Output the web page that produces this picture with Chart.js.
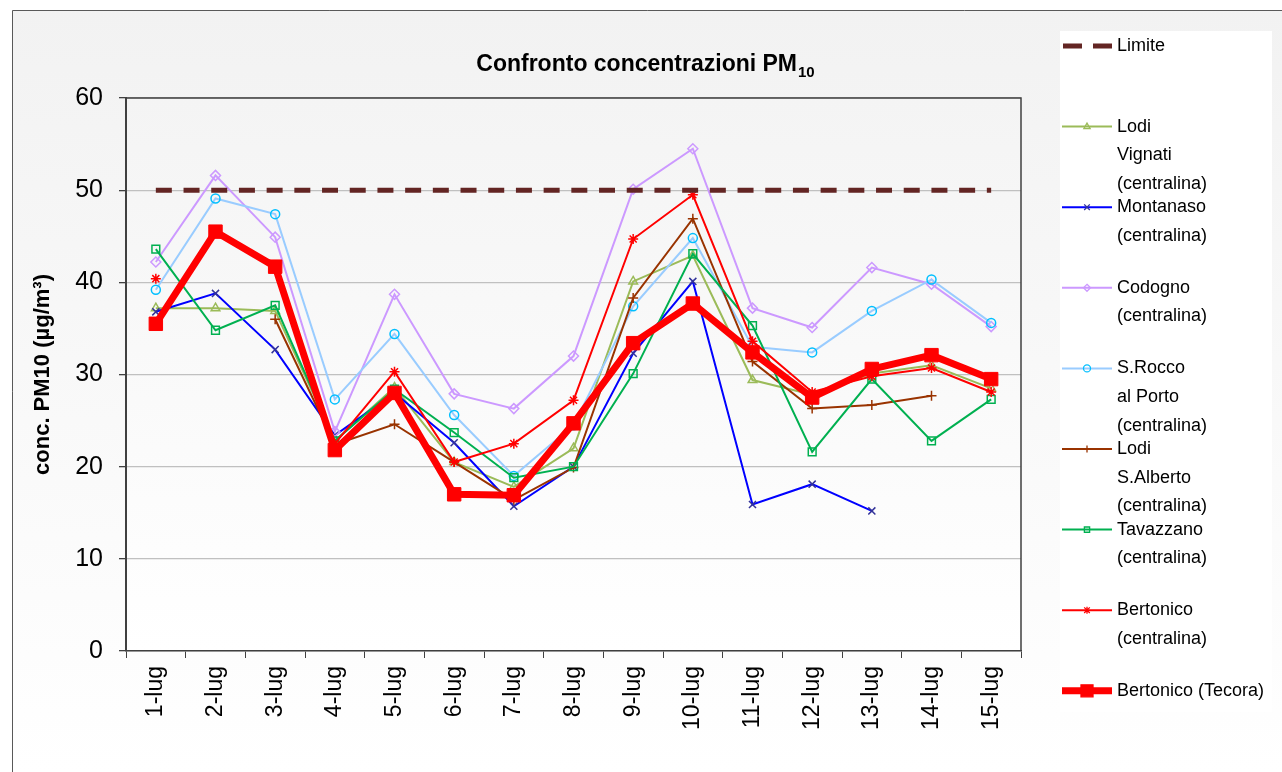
<!DOCTYPE html>
<html lang="it">
<head>
<meta charset="UTF-8">
<title>Confronto concentrazioni PM10</title>
<script src="https://cdn.jsdelivr.net/npm/chart.js@4.4.1/dist/chart.umd.min.js"></script>
<style>
  html, body { margin: 0; padding: 0; background: #fff; }
  canvas { display: block; }
</style>
</head>
<body>
<canvas id="grafico" width="1282" height="772"></canvas>
<script>
// giorni di luglio
const giorni = ['1-lug', '2-lug', '3-lug', '4-lug', '5-lug', '6-lug', '7-lug', '8-lug',
  '9-lug', '10-lug', '11-lug', '12-lug', '13-lug', '14-lug', '15-lug'];

// valori PM10 (µg/m³)
const limite        = [50, 50, 50, 50, 50, 50, 50, 50, 50, 50, 50, 50, 50, 50, 50];
const lodiVignati   = [37.2, 37.2, 36.9, 22.8, 28.6, 20.5, 17.8, 22.0, 40.1, 42.9, 29.4, 27.8, 30.1, 31.0, 28.5];
const montanaso     = [36.8, 38.8, 32.7, 23.4, 28.0, 22.6, 15.7, 20.0, 32.3, 40.1, 15.9, 18.1, 15.2, null, null];
const codogno       = [42.2, 51.6, 44.9, 23.8, 38.7, 27.9, 26.3, 32.0, 50.1, 54.5, 37.2, 35.1, 41.6, 39.8, 35.2];
const sRocco        = [39.2, 49.1, 47.4, 27.3, 34.4, 25.6, 19.0, 24.5, 37.4, 44.8, 33.0, 32.4, 36.9, 40.3, 35.6];
const lodiSAlberto  = [null, null, 36.0, 22.4, 24.6, 20.5, 16.4, 19.9, 38.3, 46.9, 31.4, 26.3, 26.7, 27.7, null];
const tavazzano     = [43.6, 34.8, 37.5, 22.8, 28.4, 23.7, 18.8, 20.0, 30.1, 43.1, 35.3, 21.6, 29.5, 22.8, 27.3];
const bertonico     = [40.4, null, null, 22.5, 30.3, 20.5, 22.5, 27.2, 44.7, 49.5, 33.6, 28.1, 29.8, 30.7, 28.1];
const bertonicoTec  = [35.5, 45.5, 41.7, 21.8, 28.0, 17.0, 16.9, 24.7, 33.4, 37.7, 32.4, 27.5, 30.6, 32.1, 29.5];

const yTicks = [0, 10, 20, 30, 40, 50, 60];

const FONT = '"Liberation Sans", Arial, sans-serif';

function serie(label, data, colore, marker, raggio, colMarker, ordine) {
  return {
    label: label,
    data: data,
    borderColor: colore,
    borderWidth: 2,
    pointStyle: marker,
    pointRadius: raggio,
    pointBorderColor: colMarker || colore,
    pointBackgroundColor: 'rgba(0,0,0,0)',
    pointBorderWidth: 1.5,
    spanGaps: false,
    tension: 0,
    order: ordine
  };
}

const datasets = [
  {
    label: 'Limite',
    data: limite,
    borderColor: '#632523',
    borderWidth: 5,
    borderDash: [16, 11.7],
    pointRadius: 0,
    order: 1
  },
  serie('Lodi\nVignati\n(centralina)', lodiVignati, '#9BBB59', 'triangle', 5, null, 8),
  serie('Montanaso\n(centralina)', montanaso, '#0000FF', 'crossRot', 5, '#333399', 7),
  serie('Codogno\n(centralina)', codogno, '#CC99FF', 'rectRot', 5, null, 6),
  serie('S.Rocco\nal Porto\n(centralina)', sRocco, '#99CCFF', 'circle', 4.5, '#00BFFF', 5),
  serie('Lodi\nS.Alberto\n(centralina)', lodiSAlberto, '#993300', 'cross', 5, null, 4),
  serie('Tavazzano\n(centralina)', tavazzano, '#00B050', 'rect', 5.5, null, 3),
  serie('Bertonico\n(centralina)', bertonico, '#FF0000', 'star', 5, null, 2),
  {
    label: 'Bertonico (Tecora)',
    data: bertonicoTec,
    borderColor: '#FF0000',
    borderWidth: 7,
    pointStyle: 'rect',
    pointRadius: 9.5,
    pointBackgroundColor: '#FF0000',
    pointBorderColor: '#FF0000',
    pointBorderWidth: 1,
    order: 0
  }
];

// piccolo marker per la legenda
function marker(ctx, stile, x, y, r, pieno) {
  ctx.beginPath();
  switch (stile) {
    case 'triangle':
      ctx.moveTo(x, y - r);
      ctx.lineTo(x + r * 0.9, y + r * 0.6);
      ctx.lineTo(x - r * 0.9, y + r * 0.6);
      ctx.closePath();
      break;
    case 'crossRot':
      ctx.moveTo(x - r * 0.8, y - r * 0.8); ctx.lineTo(x + r * 0.8, y + r * 0.8);
      ctx.moveTo(x + r * 0.8, y - r * 0.8); ctx.lineTo(x - r * 0.8, y + r * 0.8);
      break;
    case 'rectRot':
      ctx.moveTo(x, y - r); ctx.lineTo(x + r, y); ctx.lineTo(x, y + r); ctx.lineTo(x - r, y);
      ctx.closePath();
      break;
    case 'circle':
      ctx.arc(x, y, r, 0, Math.PI * 2);
      break;
    case 'cross':
      ctx.moveTo(x, y - r); ctx.lineTo(x, y + r);
      ctx.moveTo(x - r, y); ctx.lineTo(x + r, y);
      break;
    case 'rect':
      ctx.rect(x - r * 0.75, y - r * 0.75, r * 1.5, r * 1.5);
      break;
    case 'star':
      ctx.moveTo(x, y - r); ctx.lineTo(x, y + r);
      ctx.moveTo(x - r * 0.8, y - r * 0.8); ctx.lineTo(x + r * 0.8, y + r * 0.8);
      ctx.moveTo(x + r * 0.8, y - r * 0.8); ctx.lineTo(x - r * 0.8, y + r * 0.8);
      break;
  }
  if (pieno) ctx.fill();
  ctx.stroke();
}

// sfondo, cornice, titolo e legenda
const decorazioni = {
  id: 'decorazioni',
  beforeDraw(chart) {
    const ctx = chart.ctx;
    const a = chart.chartArea;
    ctx.save();
    let g = ctx.createLinearGradient(0, 10, 0, 772);
    g.addColorStop(0, '#f2f2f2');
    g.addColorStop(1, '#ffffff');
    ctx.fillStyle = g;
    ctx.fillRect(12, 10, 1270, 762);
    ctx.strokeStyle = '#595959';
    ctx.lineWidth = 1;
    ctx.beginPath();
    ctx.moveTo(12.5, 772);
    ctx.lineTo(12.5, 10.5);
    ctx.lineTo(1282, 10.5);
    ctx.stroke();

    g = ctx.createLinearGradient(0, a.top, 0, a.bottom);
    g.addColorStop(0, '#f4f4f4');
    g.addColorStop(1, '#ffffff');
    ctx.fillStyle = g;
    ctx.fillRect(a.left, a.top, a.right - a.left, a.bottom - a.top);

    ctx.fillStyle = '#ffffff';
    ctx.fillRect(1060, 31, 212, 681);
    ctx.restore();
  },
  afterDraw(chart) {
    const ctx = chart.ctx;
    const a = chart.chartArea;
    ctx.save();
    // bordo area del grafico
    ctx.strokeStyle = '#404040';
    ctx.lineWidth = 1.5;
    ctx.beginPath();
    ctx.moveTo(a.left, a.top);
    ctx.lineTo(a.right, a.top);
    ctx.lineTo(a.right, a.bottom);
    ctx.stroke();

    // titolo con pedice
    ctx.fillStyle = '#000';
    ctx.textBaseline = 'alphabetic';
    ctx.textAlign = 'left';
    ctx.font = 'bold 23px ' + FONT;
    const t1 = 'Confronto concentrazioni PM';
    const w1 = ctx.measureText(t1).width;
    ctx.font = 'bold 15px ' + FONT;
    const w2 = ctx.measureText('10').width;
    const x0 = 645 - (w1 + w2) / 2;
    ctx.font = 'bold 23px ' + FONT;
    ctx.fillText(t1, x0, 71);
    ctx.font = 'bold 15px ' + FONT;
    ctx.fillText('10', x0 + w1 + 1, 77);

    // legenda
    ctx.font = '18px ' + FONT;
    ctx.textBaseline = 'middle';
    chart.data.datasets.forEach((ds, i) => {
      const y = 46 + i * 80.6;
      ds.label.split('\n').forEach((r, k) => {
        ctx.fillStyle = '#000';
        ctx.fillText(r, 1117, y + k * 28.6);
      });
      ctx.strokeStyle = ds.borderColor;
      ctx.lineWidth = ds.borderWidth;
      ctx.beginPath();
      if (ds.borderDash) {
        ctx.moveTo(1063, y); ctx.lineTo(1082, y);
        ctx.moveTo(1093, y); ctx.lineTo(1112, y);
      } else {
        ctx.moveTo(1062, y); ctx.lineTo(1112, y);
      }
      ctx.stroke();
      if (ds.pointRadius > 0) {
        const grande = ds.pointRadius > 6;
        ctx.strokeStyle = ds.pointBorderColor;
        ctx.fillStyle = ds.pointBackgroundColor;
        ctx.lineWidth = 1.3;
        marker(ctx, ds.pointStyle, 1087, y, grande ? 8 : 3.5, grande);
      }
    });
    ctx.restore();
  }
};

new Chart(document.getElementById('grafico'), {
  type: 'line',
  data: { labels: giorni, datasets: datasets },
  plugins: [decorazioni],
  options: {
    responsive: false,
    animation: false,
    devicePixelRatio: 1,
    layout: { padding: { left: 0, top: 98, right: 261, bottom: 0 } },
    plugins: {
      legend: { display: false },
      title: { display: false },
      tooltip: { enabled: false }
    },
    scales: {
      x: {
        offset: true,
        afterFit: (s) => { s.height = 121; },
        grid: { display: true, offset: true, drawOnChartArea: false, color: '#404040', tickLength: 7 },
        border: { color: '#404040', width: 1.5 },
        ticks: {
          color: '#000',
          font: { size: 23, family: FONT },
          minRotation: 90,
          maxRotation: 90,
          autoSkip: false,
          padding: 8
        }
      },
      y: {
        min: 0,
        max: 60,
        afterFit: (s) => { s.width = 126; },
        afterBuildTicks: (s) => { s.ticks = yTicks.map(v => ({ value: v })); },
        grid: { color: '#c0c0c0', tickColor: '#404040', tickLength: 7, lineWidth: 1.3 },
        border: { color: '#404040', width: 2 },
        ticks: {
          color: '#000',
          font: { size: 25, family: FONT },
          padding: 16
        },
        title: {
          display: true,
          text: 'conc. PM10 (µg/m³)',
          color: '#000',
          font: { size: 22, weight: 'bold', family: FONT },
          padding: { top: 30, bottom: 0 }
        }
      }
    }
  }
});
</script>
</body>
</html>
